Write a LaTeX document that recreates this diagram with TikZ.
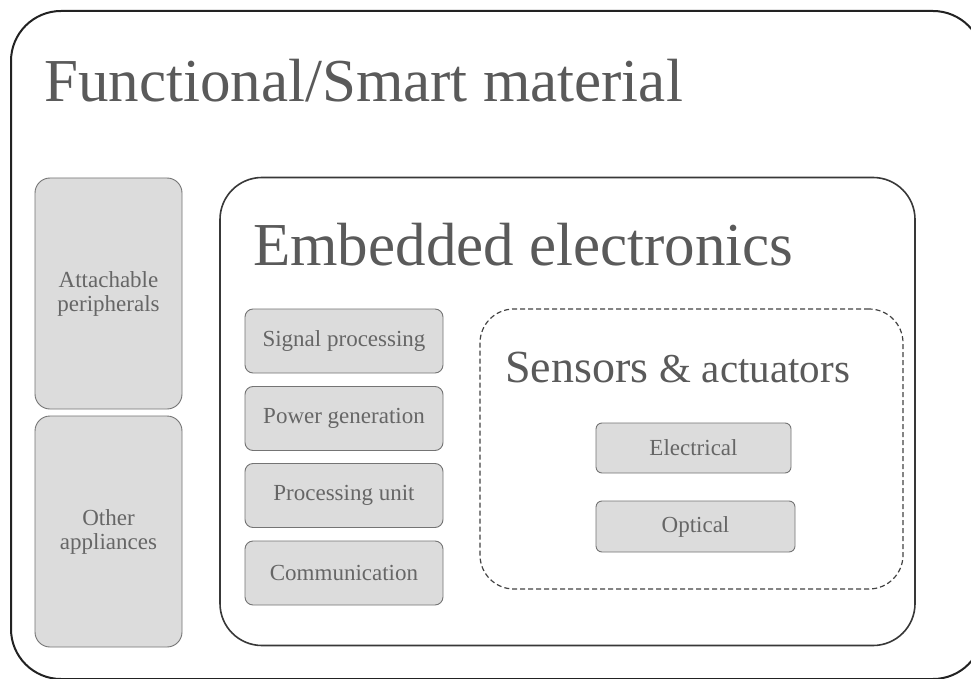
\documentclass[tikz,border=0pt]{standalone}
\usepackage{fontspec}
\setmainfont{Liberation Serif}
\usetikzlibrary{positioning}
\definecolor{titlegray}{HTML}{5A5A5A}
\definecolor{labelgray}{HTML}{666666}
\definecolor{boxfill}{HTML}{DCDCDC}
\definecolor{boxline}{HTML}{747474}
\definecolor{frameline}{HTML}{222222}
\tikzset{
  outerframe/.style={draw=frameline, line width=2pt, rounded corners=50pt, inner sep=0pt},
  innerframe/.style={draw=frameline!90, line width=1.6pt, rounded corners=42pt, inner sep=0pt},
  dashframe/.style={draw=frameline!85, line width=1.2pt, dash pattern=on 5pt off 3pt, rounded corners=34pt, inner sep=0pt},
  graybox/.style={draw=boxline, fill=boxfill, line width=0.9pt, rounded corners=#1, inner sep=0pt,
    text=labelgray, align=center, font=\fontsize{23}{24}\selectfont},
  graybox/.default=8pt,
  bigtitle/.style={text=titlegray, anchor=base west, inner sep=0pt, font=\fontsize{61}{64}\selectfont},
}
\begin{document}
\begin{tikzpicture}[x=1pt,y=-1pt]
\useasboundingbox (0,0) rectangle (971,679);
\fill[white] (0,0) rectangle (971,679);

% outer frame: functional material
\node[outerframe, minimum width=972pt, minimum height=668pt] (outer) at (497,345) {};
\node[bigtitle] (ftitle) at (44,102) {Functional/Smart material};

% left column of peripherals
\node[graybox=15pt, minimum width=147pt, minimum height=231pt] (attach) at (108.5,293.5) {Attachable\\peripherals};
\node[graybox=15pt, minimum width=147pt, minimum height=231pt] (other) at (108.5,531.5) {Other\\appliances};

% embedded electronics frame
\node[innerframe, minimum width=695pt, minimum height=468pt] (embed) at (567.5,411.5) {};
\node[bigtitle] (etitle) at (253,265) {Embedded electronics};

% electronics modules
\node[graybox, minimum width=198pt, minimum height=64pt] (signal) at (344,341) {Signal processing};
\node[graybox, minimum width=198pt, minimum height=64pt] (power) at (344,418.5) {Power generation};
\node[graybox, minimum width=198pt, minimum height=64pt] (cpu) at (344,495.5) {Processing unit};
\node[graybox, minimum width=198pt, minimum height=64pt] (comm) at (344,573) {Communication};

% sensors and actuators group
\node[dashframe, minimum width=423pt, minimum height=280pt] (sens) at (691.5,449) {};
\node[text=titlegray, anchor=base west, inner sep=0pt] (stitle) at (505,382)
  {\fontsize{46}{48}\selectfont Sensors \fontsize{41}{44}\selectfont\&\ actuators};
\node[graybox=6pt, minimum width=195pt, minimum height=50pt] (elec) at (693.5,448) {Electrical};
\node[graybox=6pt, minimum width=199pt, minimum height=51pt] (opt) at (695.5,526.5) {Optical};
\end{tikzpicture}
\end{document}
